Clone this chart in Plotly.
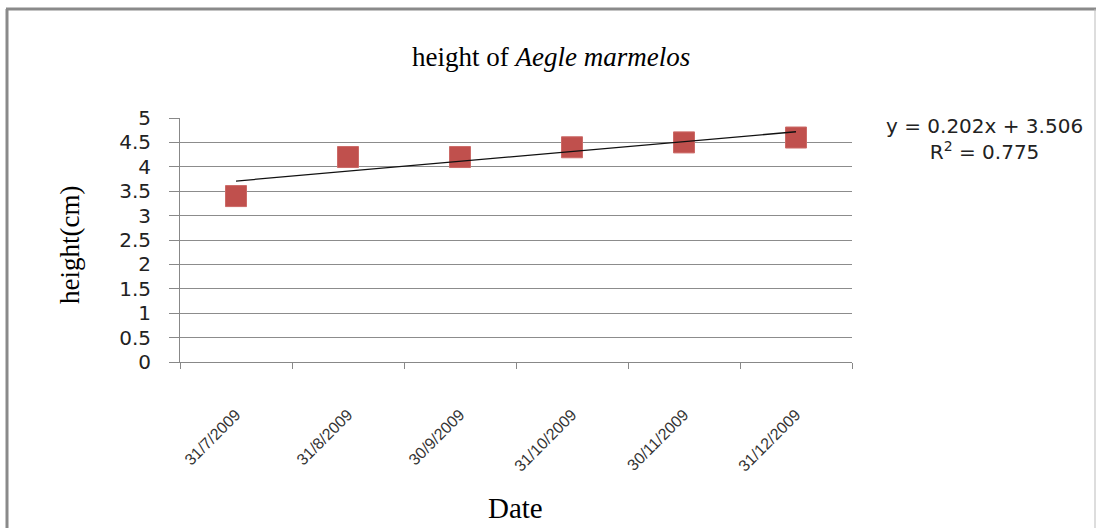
import plotly.graph_objects as go

# Sampling dates and measured plant height (cm)
dates = ["31/7/2009", "31/8/2009", "30/9/2009", "31/10/2009", "30/11/2009", "31/12/2009"]
height_cm = [3.4, 4.2, 4.2, 4.4, 4.5, 4.6]

# Linear trend line coefficients (x = 1..6) as printed on the chart
trend_slope = 0.202
trend_intercept = 3.506
trend_r2 = 0.775

y_ticks = [0, 0.5, 1, 1.5, 2, 2.5, 3, 3.5, 4, 4.5, 5]

trend_vals = [trend_slope * (i + 1) + trend_intercept for i in range(len(dates))]

# Plot area in pixels inside the 1096x528 page
W, H = 1096, 528
PX0, PX1, PY0, PY1 = 180, 852, 118, 362


def px(x):
    return (x - PX0) / (PX1 - PX0)


def py(y):
    return (PY1 - y) / (PY1 - PY0)


fig = go.Figure()

fig.add_trace(go.Scatter(
    x=dates, y=height_cm, mode="markers",
    marker=dict(symbol="square", size=21, color="#C0504D",
                line=dict(color="#CC6A67", width=1)),
    showlegend=False, hoverinfo="x+y",
))

fig.add_trace(go.Scatter(
    x=dates, y=trend_vals, mode="lines",
    line=dict(color="#111111", width=1.3),
    showlegend=False, hoverinfo="skip",
))

serif = "Liberation Serif, Times New Roman, serif"
sans = "DejaVu Sans, Verdana, sans-serif"


def label(text, x, y, size, family, **kw):
    return dict(text=text, x=px(x), y=py(y), xref="paper", yref="paper",
                xanchor="center", yanchor="middle", showarrow=False,
                font=dict(family=family, size=size, color=kw.pop("color", "#000000")),
                **kw)


annotations = [
    label("height of <i>Aegle marmelos</i>", 551, 57, 27, serif),
    label("height(cm)", 70, 245, 27, serif, textangle=-90),
    label("Date", 515, 508, 29, serif),
    label(f"y = {trend_slope}x + {trend_intercept}<br>R<sup>2</sup> = {trend_r2}",
          984, 139, 20, sans, color="#222222", align="center"),
]

# Chart frame: heavy grey on the left and top, thin on the right
shapes = [
    dict(type="line", xref="paper", yref="paper",
         x0=px(7), x1=px(7), y0=py(9), y1=py(530),
         line=dict(color="#8A8A8A", width=3)),
    dict(type="line", xref="paper", yref="paper",
         x0=px(6), x1=px(1096), y0=py(9), y1=py(9),
         line=dict(color="#8A8A8A", width=3)),
    dict(type="line", xref="paper", yref="paper",
         x0=px(1095), x1=px(1095), y0=py(9), y1=py(530),
         line=dict(color="#BBBBBB", width=1)),
]

fig.update_layout(
    width=W, height=H,
    margin=dict(l=PX0, r=W - PX1, t=PY0, b=H - PY1),
    paper_bgcolor="white", plot_bgcolor="white",
    annotations=annotations, shapes=shapes,
    xaxis=dict(
        type="category", range=[-0.5, len(dates) - 0.5],
        tickson="boundaries", ticks="outside", ticklen=6,
        tickcolor="#888888", tickwidth=1,
        showline=True, linecolor="#888888", linewidth=1,
        showgrid=False, zeroline=False,
        tickangle=-45, ticklabelstandoff=36,
        tickfont=dict(family="Liberation Sans, Arial, sans-serif", size=16, color="#333333"),
    ),
    yaxis=dict(
        range=[0, 5], tickvals=y_ticks,
        ticktext=[f"{v:g}" for v in y_ticks],
        ticks="outside", ticklen=10, tickcolor="#888888", tickwidth=1,
        showline=True, linecolor="#888888", linewidth=1,
        showgrid=True, gridcolor="#8C8C8C", gridwidth=1,
        zeroline=False, ticklabelstandoff=14,
        tickfont=dict(family=sans, size=20, color="#222222"),
    ),
)

fig.write_html("out.html")
